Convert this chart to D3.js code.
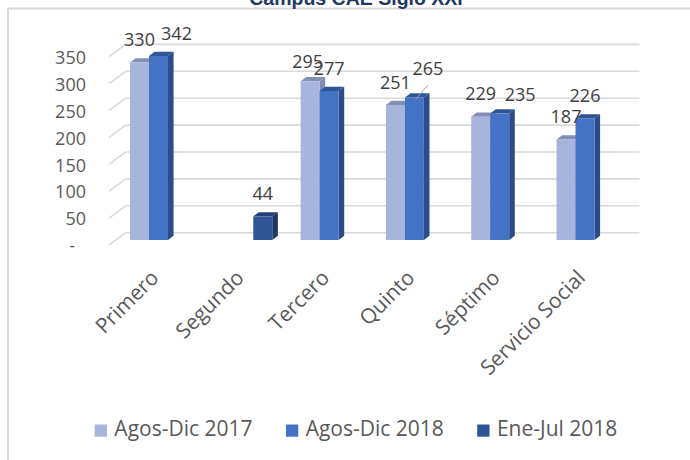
<!DOCTYPE html>
<html>
<head>
<meta charset="utf-8">
<script src="https://cdn.jsdelivr.net/npm/d3@7"></script>
<style>
  html, body { margin: 0; padding: 0; background: #ffffff; }
  svg { display: block; }
</style>
</head>
<body>
<svg id="chart" width="690" height="460"></svg>
<script>
// ---- Data ----
const title = "Campus CAE Siglo XXI";
const categories = ["Primero", "Segundo", "Tercero", "Quinto", "Séptimo", "Servicio Social"];
const seriesNames = ["Agos-Dic 2017", "Agos-Dic 2018", "Ene-Jul 2018"];
const agosDic2017 = [330, null, 295, 251, 229, 187];
const agosDic2018 = [342, null, 277, 265, 235, 226];
const eneJul2018  = [null, 44, null, null, null, null];
const yTickValues = [0, 50, 100, 150, 200, 250, 300, 350];
const yTickLabels = ["-", "50", "100", "150", "200", "250", "300", "350"];

// ---- Styling ----
const frontColors = ["#A7B4DC", "#4472C4", "#2F5597"];
const topColors   = ["#8290B5", "#2F5597", "#243F73"];
const sideColors  = ["#7F8BB0", "#2B4C89", "#1F3864"];
// label nudges (dx, dy) for manually moved data labels: [seriesIndex, categoryIndex, dx, dy]
const labelNudges = [[1, 0, 18, 0], [0, 2, -2.5, 3.3], [1, 3, 13.5, -6], [1, 4, 20.5, 3.4]];

const svg = d3.select("#chart");
const font = "'Open Sans', 'Noto Sans', sans-serif";

// chart area border
svg.append("rect")
  .attr("x", 8).attr("y", 8.5).attr("width", 720).attr("height", 480)
  .attr("fill", "none").attr("stroke", "#d9d9d9").attr("stroke-width", 2);

// title (clipped at top in original)
svg.append("text")
  .attr("x", 356).attr("y", 5)
  .attr("text-anchor", "middle")
  .attr("font-family", "'Liberation Sans', Arial, sans-serif")
  .attr("font-weight", "bold").attr("font-size", 19.5)
  .attr("fill", "#1F3864")
  .text(title);

// ---- Geometry (pseudo 3D) ----
const floorDepth = [16.5, -12.3];          // front -> back wall
const barFrontT = 0.405;                    // bars' front face depth fraction
const barDepth = [5.6, -4.2];               // bar thickness vector
const baseY = 240;                          // bar base (front face)
const pxPerUnit = 0.538;

const x0 = d3.scaleBand().domain(categories)
  .range([115.85, 627.65]).paddingInner(0.332).paddingOuter(0.166);
const x1 = d3.scaleBand().domain(seriesNames).range([0, x0.bandwidth()]);
const y = d3.scaleLinear().domain([0, 350]).range([baseY, baseY - 350 * pxPerUnit]);

const fOff = [floorDepth[0] * barFrontT, floorDepth[1] * barFrontT];
const frontLeftX = x0.range()[0] - fOff[0];
const frontRightX = x0.range()[1] - fOff[0];
const yFront = v => y(v) - fOff[1];
const yBack = v => yFront(v) + floorDepth[1];

// gridlines: back wall + left wall diagonals
const grid = svg.append("g").attr("stroke", "#d9d9d9").attr("stroke-width", 1.6).attr("fill", "none");
grid.selectAll("line.back").data(yTickValues).join("line")
  .attr("class", "back")
  .attr("x1", frontLeftX + floorDepth[0]).attr("x2", frontRightX + floorDepth[0] + 2)
  .attr("y1", d => yBack(d)).attr("y2", d => yBack(d));
grid.selectAll("line.side").data(yTickValues).join("line")
  .attr("class", "side")
  .attr("x1", frontLeftX).attr("x2", frontLeftX + floorDepth[0])
  .attr("y1", d => yFront(d)).attr("y2", d => yBack(d));

// y-axis labels
svg.append("g").selectAll("text").data(yTickValues).join("text")
  .attr("x", (d, i) => yTickLabels[i] === "-" ? 75 : 86)
  .attr("y", d => yFront(d) + 1)
  .attr("dy", "0.35em")
  .attr("text-anchor", "end")
  .attr("font-family", font).attr("font-size", 18)
  .attr("fill", "#595959")
  .text((d, i) => yTickLabels[i]);

// bars
const allSeries = [agosDic2017, agosDic2018, eneJul2018];
const barData = [];
categories.forEach((c, ci) => {
  allSeries.forEach((vals, si) => {
    if (vals[ci] != null) barData.push({ c, ci, si, v: vals[ci] });
  });
});

const bars = svg.append("g");
barData.forEach(d => {
  const bx = x0(d.c) + x1(seriesNames[d.si]);
  const bw = x1.bandwidth();
  const top = y(d.v);
  const [dx, dy] = barDepth;
  const g = bars.append("g");
  g.append("path")
    .attr("d", `M${bx + bw},${top} L${bx + bw + dx},${top + dy} L${bx + bw + dx},${baseY + dy} L${bx + bw},${baseY} Z`)
    .attr("fill", sideColors[d.si]);
  g.append("path")
    .attr("d", `M${bx},${top} L${bx + bw},${top} L${bx + bw + dx},${top + dy} L${bx + dx},${top + dy} Z`)
    .attr("fill", topColors[d.si]);
  g.append("rect")
    .attr("x", bx).attr("y", top).attr("width", bw).attr("height", baseY - top)
    .attr("fill", frontColors[d.si]);
});

// data labels
const labels = svg.append("g");
barData.forEach(d => {
  const nudge = labelNudges.find(n => n[0] === d.si && n[1] === d.ci) || [0, 0, 0, 0];
  const cx = x0(d.c) + x1(seriesNames[d.si]) + x1.bandwidth() / 2 + nudge[2];
  const by = y(d.v) - 16.3 + nudge[3];
  labels.append("text")
    .attr("x", cx).attr("y", by)
    .attr("text-anchor", "middle")
    .attr("font-family", font).attr("font-size", 18)
    .attr("fill", "#404040")
    .text(d.v);
  if (d.si === 1 && d.ci === 3) {
    labels.append("line")
      .attr("x1", cx).attr("y1", by + 10)
      .attr("x2", x0(d.c) + x1(seriesNames[d.si]) + x1.bandwidth() / 2 + 1).attr("y2", y(d.v) + 2)
      .attr("stroke", "#a6a6a6").attr("stroke-width", 1);
  }
});

// category labels
svg.append("g").selectAll("text").data(categories).join("text")
  .attr("transform", d => `translate(${x0(d) + x0.bandwidth() / 2 + 1.5},279) rotate(-45)`)
  .attr("text-anchor", "end")
  .attr("font-family", font).attr("font-size", 21)
  .attr("fill", "#595959")
  .text(d => d);

// legend
const legend = svg.append("g");
const items = seriesNames.map((name, i) => {
  const g = legend.append("g");
  g.append("rect").attr("x", 0).attr("y", -11).attr("width", 12.3).attr("height", 12.2).attr("fill", frontColors[i]);
  const t = g.append("text").attr("x", 19.7).attr("y", 0)
    .attr("font-family", font).attr("font-size", 21).attr("fill", "#595959").text(name);
  return { g, w: 19.7 + t.node().getComputedTextLength() };
});
const gap = 33.4;
const total = d3.sum(items, d => d.w) + gap * (items.length - 1);
let lx = 356 - total / 2;
items.forEach(it => {
  it.g.attr("transform", `translate(${lx},435.5)`);
  lx += it.w + gap;
});
</script>
</body>
</html>
